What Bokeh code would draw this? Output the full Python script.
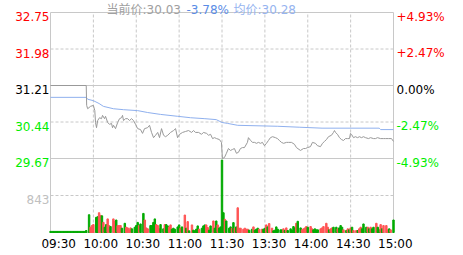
from bokeh.plotting import figure
from bokeh.models import Range1d, ColumnDataSource
from bokeh.embed import file_html
from bokeh.resources import INLINE
from bokeh.core.properties import value

# ---------------- data ----------------
prev_close = 31.21
price_ticks = [32.75, 31.98, 31.21, 30.44, 29.67]
pct_labels = ["+4.93%", "+2.47%", "0.00%", "-2.47%", "-4.93%"]
vol_tick = 843
vol_max = 1686
time_ticks = [0, 30, 60, 90, 120, 150, 180, 210, 240]
time_labels = ["09:30", "10:00", "10:30", "11:00", "11:30", "13:30", "14:00", "14:30", "15:00"]
last_price = "30.03"
last_pct = "-3.78%"
avg_last = "30.28"

price_min = [0, 25, 25.3, 26, 28, 30, 31, 31.5, 32.2, 33, 34.3, 35.7, 36.4, 37.8, 38.5, 40, 41.3, 42.7,
             43.4, 44.1, 45.5, 47, 48.3, 49.7, 50.4, 51.1, 52.5, 54, 55.3, 56.7, 58.1, 59.5, 61, 63,
             64.4, 65.8, 67.9, 69.3, 70.7, 72.1, 73.5, 75, 76.3, 77.7, 79.1, 80.5, 82, 84, 86.1, 87.5,
             88.9, 90.3, 92.4, 94.5, 96.6, 98.7, 100.1, 101.5, 103.6, 105.7, 107, 109.2, 110.6, 112,
             113.4, 114.8, 116.2, 118.2, 119.6, 120.3, 121.7, 123.1, 124.5, 125.9, 127.3, 128.7, 130.1,
             131.5, 132.9, 134.3, 135.7, 137.8, 138.5, 140, 141.4, 142.8, 144.1, 145.5, 146.9, 148.3,
             149.7, 151.1, 152.5, 153.9, 155.4, 157.4, 158.8, 160.2, 161.6, 163.1, 165.1, 166.5, 168.6,
             170.7, 172.1, 174.9, 177, 178.4, 179.8, 181.9, 183.3, 185.4, 186.8, 188.9, 190.3, 191.7,
             193.1, 194.5, 196.6, 198, 198.7, 199.4, 200.8, 202.2, 203.6, 205, 206.4, 207.8, 209.2,
             209.9, 210.6, 212, 213.4, 214.8, 216.2, 217.6, 219, 220.4, 222.5, 223.9, 226, 227.4,
             228.8, 230.9, 233, 234.4, 236.5, 238.6, 240]
price_val = [31.21, 31.21, 30.79, 30.72, 30.77, 30.79, 30.68, 30.43, 30.32, 30.47, 30.53, 30.51, 30.58,
             30.51, 30.56, 30.43, 30.39, 30.41, 30.32, 30.37, 30.30, 30.43, 30.51, 30.53, 30.58, 30.47,
             30.51, 30.51, 30.47, 30.51, 30.47, 30.39, 30.30, 30.28, 30.20, 30.30, 30.32, 30.37, 30.22,
             30.11, 30.16, 30.22, 30.11, 30.30, 30.16, 30.13, 30.16, 30.22, 30.26, 30.30, 30.11, 30.18,
             30.22, 30.24, 30.26, 30.22, 30.26, 30.22, 30.22, 30.18, 30.22, 30.20, 30.16, 30.18, 30.09,
             30.11, 30.09, 30.07, 30.01, 29.67, 29.69, 29.78, 29.88, 29.84, 29.86, 29.88, 29.78, 29.80,
             29.88, 29.90, 29.90, 30.01, 30.11, 30.05, 30.01, 30.01, 29.99, 30.01, 29.99, 30.01, 29.94,
             29.99, 30.05, 30.11, 30.13, 30.11, 30.09, 30.05, 30.01, 29.99, 30.01, 30.01, 30.01, 29.97,
             29.90, 29.84, 29.88, 29.88, 29.90, 29.92, 30.01, 29.99, 29.94, 29.92, 29.99, 30.03, 30.07,
             30.13, 30.16, 30.22, 30.26, 30.22, 30.18, 30.11, 30.07, 30.05, 30.09, 30.09, 30.09, 30.20,
             30.18, 30.11, 30.13, 30.11, 30.13, 30.11, 30.13, 30.11, 30.09, 30.11, 30.09, 30.09, 30.11,
             30.09, 30.09, 30.09, 30.09, 30.09, 30.03]

avg_min = [0, 25, 26, 30, 34, 37, 44, 51, 61, 68, 77, 89, 98, 108, 116, 120, 124, 131, 159, 174, 190,
           230, 231, 240]
avg_val = [30.96, 30.96, 30.92, 30.89, 30.83, 30.77, 30.72, 30.70, 30.68, 30.64, 30.60, 30.56, 30.53,
           30.51, 30.49, 30.43, 30.41, 30.37, 30.35, 30.33, 30.31, 30.31, 30.28, 30.28]

vol_min = list(range(0, 25)) + [
    25, 27, 28, 29, 30, 32, 33, 34, 35, 36, 37, 38, 39, 40, 41, 42, 44, 45, 46, 47, 48, 49, 50, 52, 53,
    54, 55, 56, 57, 59, 60, 61, 62, 63, 65, 66, 67, 68, 70, 71, 72, 73, 74, 75, 76, 77, 79, 80, 81,
    82, 83, 84, 85, 86, 87, 89, 90, 91, 92, 94, 95, 96, 97, 99, 100, 101, 102, 103, 104, 106, 107,
    108, 109, 110, 111, 112, 114, 115, 116, 117, 118, 119, 120, 121, 122, 123, 125, 126, 127, 128,
    129, 130, 131, 132, 133, 135, 136, 137, 138, 139, 141, 142, 143, 144, 145, 146, 148, 149, 150,
    151, 152, 153, 155, 156, 157, 158, 159, 161, 162, 163, 164, 165, 166, 168, 169, 170, 171, 172,
    173, 175, 176, 177, 178, 179, 180, 182, 183, 184, 185, 186, 187, 189, 190, 191, 193, 194, 195,
    196, 197, 198, 200, 201, 202, 203, 204, 205, 207, 208, 209, 210, 211, 212, 214, 215, 216, 217,
    218, 219, 221, 222, 223, 224, 225, 226, 228, 229, 230, 231, 232, 233, 235, 236, 237, 238, 240]
vol_val = [25] * 25 + [
    45, 405, 120, 158, 180, 345, 360, 450, 390, 380, 230, 120, 180, 310, 158, 135, 310, 255, 285, 158,
    158, 158, 98, 210, 120, 105, 60, 105, 83, 120, 158, 230, 158, 195, 435, 285, 105, 83, 158, 158,
    230, 310, 180, 158, 83, 180, 83, 180, 180,
    150, 128, 173, 75, 98, 75, 128, 173, 98, 128, 398, 98, 248, 38, 173, 53, 38, 75, 150, 75, 98, 150,
    173, 173, 113, 53, 150, 263, 98, 263, 173, 98, 128, 1650, 450, 300, 263, 98, 128, 98, 225,
    98, 128, 563, 98, 98, 75, 98, 75, 75, 53, 75, 128, 53, 75, 98, 75, 75, 75, 98,
    173, 128, 203, 98, 38, 53, 128, 75, 60, 60, 83, 45, 105, 45, 83, 45, 135, 105, 210,
    255, 105, 60, 83, 105, 135, 120, 135, 83, 60, 83, 60, 60, 83, 105, 135, 210, 120, 60,
    83, 105, 120, 120, 83, 105, 158, 120, 60, 45, 83, 60, 105, 120, 45, 45, 45, 83, 120,
    83, 195, 120, 120, 83, 120, 83, 120, 210, 120, 60, 180, 83, 158, 158, 60, 83, 60, 285]
vol_up = [0] * 25 + [
    0, 0, 1, 1, 1, 0, 0, 1, 1, 0, 1, 0, 0, 1, 1, 0, 1, 1, 0, 1,
    1, 1, 0, 0, 1, 1, 1, 1, 0, 0, 0, 0, 1, 0, 0, 1, 1, 1, 0, 0,
    0, 0, 1, 1, 1, 0, 0, 1, 0,
    0, 1, 1, 0, 0, 0, 0, 0, 1, 0, 1, 0, 1, 0, 1, 0, 0, 0, 0, 1, 0, 0,
    0, 1, 1, 0, 0, 1, 0, 0, 1, 0, 0, 0, 0, 1, 0, 0, 0, 1, 0,
    1, 0, 1, 1, 1, 1, 1, 1, 1, 0, 0, 1, 0, 0, 0, 1, 1, 0, 0,
    1, 0, 1, 1, 0, 0, 0, 0, 0, 0, 1, 0, 1, 0, 0, 0, 0, 0, 1,
    0, 0, 1, 1, 1, 1, 0, 1, 1, 0, 0, 0, 0, 1, 1, 1, 1, 1, 0,
    1, 1, 0, 0, 1, 0, 0, 0, 1, 0, 1, 0, 1, 0, 1, 1, 0, 1, 1,
    0, 0, 0, 1, 0, 1, 0, 0, 1, 0, 0, 1, 0, 1, 1, 1, 0, 1, 0]

# ---------------- layout / style ----------------
W, H = 463, 255
L, R, T = 50, 393, 12          # plot frame edges (px)
PB, VB = 158, 232              # bottom of price panel, bottom of volume panel (px)
GRID = "#c8c8c8"
RED, GREEN, BLACK = "#ff0000", "#00ee00", "#000000"
FONT = value("DejaVu Sans, Noto Sans CJK SC")

ppm = (R - L) / 240.0                              # px per minute
ppp = (price_ticks[0] - price_ticks[-1]) / (PB - T)  # price per px
vpp = vol_max / (VB - PB)                          # volume per px

x_start = -L / ppm
x_end = 240 + (W - R) / ppm
y_hi = price_ticks[0] + T * ppp
y_lo = price_ticks[-1] - (H - PB) * ppp
v_hi = VB * vpp
v_lo = -(H - VB) * vpp


def px_x(px):
    return x_start + px / ppm


def px_y(py):
    return y_hi - py * ppp


p = figure(width=W, height=H, x_range=Range1d(x_start, x_end), y_range=Range1d(y_lo, y_hi),
           min_border=0, toolbar_location=None, output_backend="svg",
           x_axis_location=None, y_axis_location=None, outline_line_color=None,
           background_fill_color="white", border_fill_color="white")
p.extra_y_ranges = {"vol": Range1d(v_lo, v_hi)}
p.grid.visible = False

t0, t1 = time_ticks[0], time_ticks[-1]
y_bottom = px_y(VB)

# dashed grid
p.segment(x0=[t0, t0], x1=[t1, t1], y0=price_ticks[1:4:2], y1=price_ticks[1:4:2],
          line_color=GRID, line_width=1, line_dash="3 2")
p.segment(x0=[t0], x1=[t1], y0=[vol_tick], y1=[vol_tick], y_range_name="vol",
          line_color=GRID, line_width=1, line_dash="3 2")
p.segment(x0=time_ticks[1:-1], x1=time_ticks[1:-1], y0=[y_bottom] * 7, y1=[price_ticks[0]] * 7,
          line_color=GRID, line_width=1, line_dash="3 2")
# solid grid / frame
p.segment(x0=[t0] * 3, x1=[t1] * 3, y0=[price_ticks[0], prev_close, price_ticks[-1]],
          y1=[price_ticks[0], prev_close, price_ticks[-1]], line_color=GRID, line_width=1)
p.segment(x0=[t0], x1=[t1], y0=[0], y1=[0], y_range_name="vol", line_color=GRID, line_width=1)
p.segment(x0=[t0, t1], x1=[t0, t1], y0=[y_bottom] * 2, y1=[price_ticks[0]] * 2,
          line_color=GRID, line_width=1)

# volume bars
vsrc = ColumnDataSource(dict(x=vol_min, top=vol_val,
                             color=["#ff5555" if u else "#00aa00" for u in vol_up]))
p.vbar(x="x", top="top", bottom=0, width=1.0, color="color", source=vsrc, y_range_name="vol")

# lines
p.line(avg_min, avg_val, line_color="#8fb0ee", line_width=1)
p.line(price_min, price_val, line_color="#999999", line_width=1)

# left price labels
def pcol(v):
    return RED if v > prev_close else (BLACK if v == prev_close else GREEN)

cols = [pcol(v) for v in price_ticks]
p.text(x=[t0] * 5, y=price_ticks, text=[f"{v:.2f}" for v in price_ticks], text_color=cols,
       text_align="right", text_baseline="alphabetic", x_offset=-1, y_offset=4.4,
       text_font=FONT, text_font_size="12px")
p.text(x=[t0], y=[vol_tick], text=[str(vol_tick)], text_color="#c0c0c0", y_range_name="vol",
       text_align="right", text_baseline="alphabetic", x_offset=-1, y_offset=4.4,
       text_font=FONT, text_font_size="12px")
# right pct labels
p.text(x=[t1] * 5, y=price_ticks, text=pct_labels, text_color=cols,
       text_align="left", text_baseline="alphabetic", x_offset=3, y_offset=4.4,
       text_font=FONT, text_font_size="12px")
# time labels
offs = [8.2 - 0.8 * i for i in range(len(time_ticks))]
tsrc = ColumnDataSource(dict(x=time_ticks, y=[0] * len(time_ticks), text=time_labels, xo=offs))
p.text(x="x", y="y", text="text", x_offset="xo", y_offset=11.5, source=tsrc, y_range_name="vol",
       text_color=BLACK, text_align="center", text_baseline="alphabetic",
       text_font=FONT, text_font_size="12px")

# header
p.text(x=[px_x(106), px_x(186), px_x(233)], y=[px_y(9.5)] * 3,
       text=["当前价:" + last_price, last_pct, "均价:" + avg_last],
       text_color=["#a0a0a0", "#5a8ce6", "#96b4f0"], text_align="left", text_baseline="alphabetic",
       text_font=FONT, text_font_size="12px")

open("out.html", "w").write(file_html(p, INLINE))
